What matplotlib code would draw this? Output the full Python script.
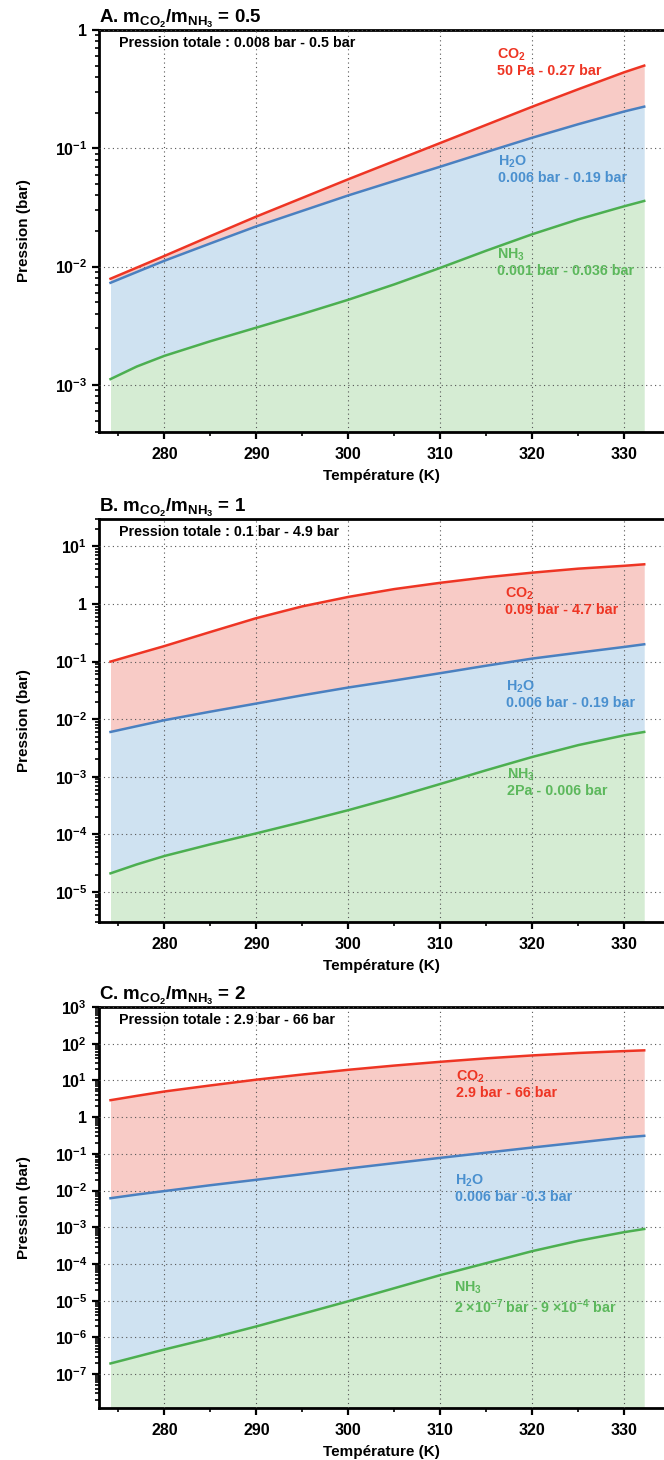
import numpy as np
import matplotlib
matplotlib.use("Agg")
import matplotlib.pyplot as plt
from matplotlib.ticker import FixedLocator, FuncFormatter, LogLocator, NullFormatter

plt.rcParams['font.family'] = ['Liberation Sans', 'DejaVu Sans']
plt.rcParams['font.weight'] = 'bold'
plt.rcParams['mathtext.default'] = 'regular'
plt.rcParams['axes.unicode_minus'] = True

# Temperatures (K)
temps = [274.15, 277, 280, 285, 290, 295, 300, 305, 310, 315, 320, 325, 330, 332.15]

# Panel A : m_CO2/m_NH3 = 0.5 (stacked curves, bar)
a_total = [0.0079, 0.0098, 0.0123, 0.0181, 0.0265, 0.0381, 0.0548, 0.078, 0.111, 0.158, 0.225, 0.316, 0.44, 0.5]
a_h2o_nh3 = [0.0073, 0.0090, 0.0112, 0.0157, 0.0219, 0.0296, 0.040, 0.053, 0.070, 0.093, 0.123, 0.16, 0.205, 0.225]
a_nh3 = [0.00112, 0.00143, 0.00176, 0.00234, 0.00305, 0.00398, 0.00525, 0.00708, 0.00977, 0.01365, 0.0188, 0.0251, 0.0324, 0.0359]

# Panel B : m_CO2/m_NH3 = 1
b_total = [0.1, 0.1355, 0.186, 0.327, 0.569, 0.912, 1.33, 1.82, 2.34, 2.92, 3.51, 4.12, 4.62, 4.9]
b_h2o_nh3 = [0.006, 0.00755, 0.0096, 0.0135, 0.0187, 0.026, 0.0355, 0.047, 0.063, 0.085, 0.113, 0.143, 0.18, 0.2]
b_nh3 = [2.1e-5, 3.0e-5, 4.2e-5, 6.7e-5, 1.04e-4, 1.64e-4, 2.63e-4, 4.37e-4, 7.5e-4, 1.30e-3, 2.21e-3, 3.55e-3, 5.25e-3, 6.0e-3]

# Panel C : m_CO2/m_NH3 = 2
c_total = [2.9, 3.8, 5.0, 7.3, 10.5, 14.5, 19.5, 25.4, 32.2, 40, 48, 56, 63, 66]
c_h2o_nh3 = [0.0062, 0.0078, 0.0097, 0.0140, 0.0197, 0.028, 0.040, 0.056, 0.078, 0.108, 0.149, 0.204, 0.28, 0.31]
c_nh3 = [1.96e-7, 3.0e-7, 4.7e-7, 9.5e-7, 2.0e-6, 4.4e-6, 9.7e-6, 2.2e-5, 5.0e-5, 1.06e-4, 2.25e-4, 4.3e-4, 7.4e-4, 9.0e-4]

titles = [r"A. m$_{CO_2}$/m$_{NH_3}$ = 0.5",
          r"B. m$_{CO_2}$/m$_{NH_3}$ = 1",
          r"C. m$_{CO_2}$/m$_{NH_3}$ = 2"]
totals_text = ["Pression totale : 0.008 bar - 0.5 bar",
               "Pression totale : 0.1 bar - 4.9 bar",
               "Pression totale : 2.9 bar - 66 bar"]
co2_text = ["50 Pa - 0.27 bar", "0.09 bar - 4.7 bar", "2.9 bar - 66 bar"]
h2o_text = ["0.006 bar - 0.19 bar", "0.006 bar - 0.19 bar", "0.006 bar -0.3 bar"]
nh3_text = ["0.001 bar - 0.036 bar", "2Pa - 0.006 bar",
            r"2 ×10$^{-7}$ bar - 9 ×10$^{-4}$ bar"]
ylims = [(4e-4, 1), (3e-6, 30), (1.2e-8, 1e3)]
# label anchors (T, P top of text)
co2_pos = [(316.2, 0.72), (317.0, 2.1), (311.7, 20.7)]
h2o_pos = [(316.3, 0.09), (317.1, 0.051), (311.6, 0.031)]
nh3_pos = [(316.1, 0.0149), (317.2, 1.5e-3), (311.5, 3.8e-5)]

red_line, red_fill = '#ee3524', '#f8cbc6'
blue_line, blue_fill = '#4a80c0', '#cfe2f1'
green_line, green_fill = '#4caf50', '#d5ecd3'
blue_txt, green_txt = '#4a90cf', '#5cb85c'

series = [(a_total, a_h2o_nh3, a_nh3), (b_total, b_h2o_nh3, b_nh3), (c_total, c_h2o_nh3, c_nh3)]
boxes = [(1 - 432 / 1460, 1 - 30 / 1460), (1 - 922 / 1460, 1 - 519 / 1460), (1 - 1408 / 1460, 1 - 1007 / 1460)]

def log_fmt(v, pos):
    e = int(round(np.log10(v)))
    if e == 0:
        return "1"
    return r"$\mathdefault{10^{%d}}$" % e

fig = plt.figure(figsize=(6.64, 14.6), dpi=100)
left = 99 / 664
for i in range(3):
    bot, top = boxes[i]
    ax = fig.add_axes([left, bot, 1.0 - left, top - bot])
    total, mid, low = series[i]
    lo = ylims[i][0]
    ax.fill_between(temps, mid, total, color=red_fill, lw=0, zorder=1)
    ax.fill_between(temps, low, mid, color=blue_fill, lw=0, zorder=1)
    ax.fill_between(temps, lo, low, color=green_fill, lw=0, zorder=1)
    ax.plot(temps, total, color=red_line, lw=1.8, zorder=3)
    ax.plot(temps, mid, color=blue_line, lw=1.8, zorder=3)
    ax.plot(temps, low, color=green_line, lw=1.8, zorder=3)
    ax.set_yscale('log')
    ax.set_ylim(*ylims[i])
    ax.set_xlim(272.9, 334.3)

    ax.set_axisbelow(False)
    ax.grid(True, which='major', linestyle=(0, (1, 3)), color='#555555', lw=0.8, zorder=2)

    ax.xaxis.set_major_locator(FixedLocator([280, 290, 300, 310, 320, 330]))
    ax.xaxis.set_minor_locator(FixedLocator([275, 285, 295, 305, 315, 325, 335]))
    ax.yaxis.set_major_locator(LogLocator(base=10, numticks=20))
    ax.yaxis.set_minor_locator(LogLocator(base=10, subs=np.arange(2, 10), numticks=20))
    ax.yaxis.set_major_formatter(FuncFormatter(log_fmt))
    ax.yaxis.set_minor_formatter(NullFormatter())
    ax.tick_params(which='major', direction='out', length=5, width=1.6, labelsize=11.5)
    ax.tick_params(which='minor', direction='out', length=3, width=1.2)
    ax.tick_params(axis='x', pad=6)

    for s in ['left', 'bottom', 'top']:
        ax.spines[s].set_linewidth(2)
    ax.spines['right'].set_visible(False)

    ax.set_title(titles[i], loc='left', fontsize=13.5, fontweight='bold', pad=5)
    ax.set_xlabel("Température (K)", fontsize=11, fontweight='bold', labelpad=5)
    ax.set_ylabel("Pression (bar)", fontsize=11, fontweight='bold')
    ax.yaxis.set_label_coords(-0.12, 0.5)
    ax.text(0.035, 0.985, totals_text[i], transform=ax.transAxes, ha='left', va='top',
            fontsize=10.3, fontweight='bold', color='black', zorder=5)

    ax.text(co2_pos[i][0], co2_pos[i][1], "CO$_2$\n" + co2_text[i], color=red_line,
            fontsize=10.3, fontweight='bold', ha='left', va='top', linespacing=1.1, zorder=5)
    ax.text(h2o_pos[i][0], h2o_pos[i][1], "H$_2$O\n" + h2o_text[i], color=blue_txt,
            fontsize=10.3, fontweight='bold', ha='left', va='top', linespacing=1.1, zorder=5)
    ax.text(nh3_pos[i][0], nh3_pos[i][1], "NH$_3$\n" + nh3_text[i], color=green_txt,
            fontsize=10.3, fontweight='bold', ha='left', va='top', linespacing=1.1, zorder=5)

fig.savefig("out.png", dpi=100)
